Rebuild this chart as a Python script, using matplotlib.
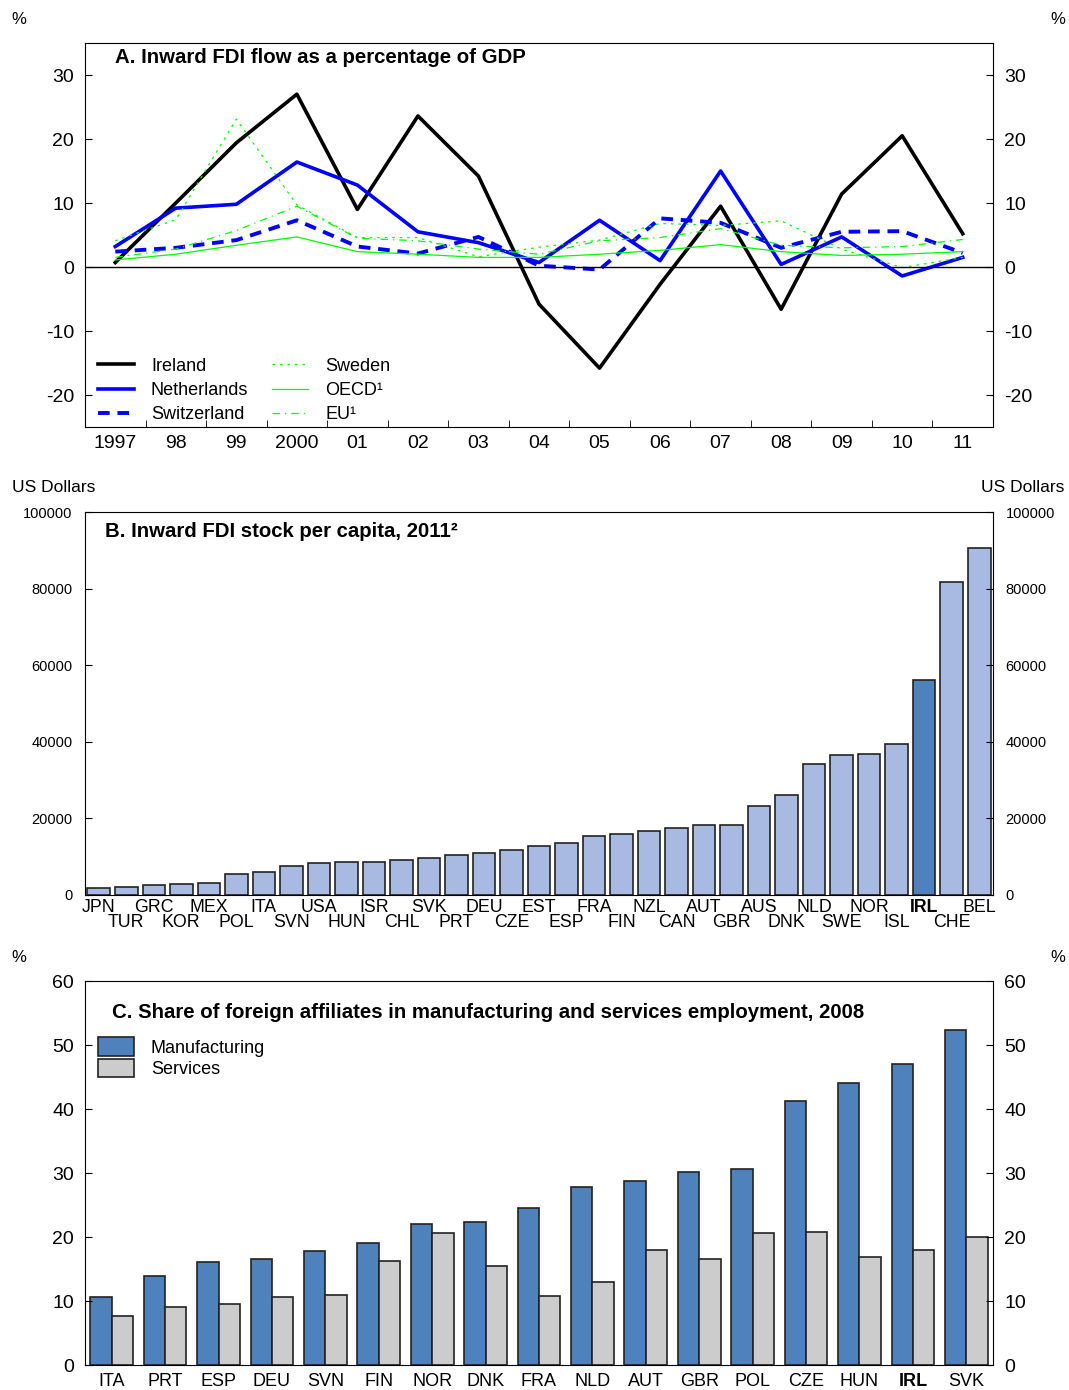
import numpy as np
import matplotlib
matplotlib.use("Agg")
from matplotlib import pyplot as plt

plt.rcParams['font.family'] = ['Liberation Sans', 'DejaVu Sans']
plt.rcParams['axes.unicode_minus'] = False

# Panel A data
years = list(range(1997, 2012))
year_labels = ["1997", "98", "99", "2000", "01", "02", "03", "04", "05", "06", "07", "08", "09", "10", "11"]
ireland = [0.7, 10.0, 19.4, 27.0, 9.0, 23.6, 14.2, -5.8, -15.8, -2.7, 9.5, -6.6, 11.4, 20.5, 5.2]
netherlands = [3.2, 9.2, 9.8, 16.4, 12.8, 5.5, 3.8, 0.7, 7.3, 1.0, 15.0, 0.4, 4.7, -1.4, 1.5]
switzerland = [2.4, 3.0, 4.2, 7.3, 3.2, 2.1, 4.7, 0.2, -0.4, 7.6, 6.9, 3.0, 5.5, 5.6, 2.2]
sweden = [4.1, 7.4, 23.1, 9.7, 4.6, 4.6, 1.6, 3.1, 4.2, 6.8, 6.5, 7.2, 2.8, -0.1, 1.5]
oecd = [1.1, 2.0, 3.4, 4.7, 2.4, 2.0, 1.5, 1.5, 2.0, 2.6, 3.5, 2.4, 1.8, 2.0, 2.4]
eu = [1.5, 2.8, 5.7, 9.5, 4.5, 4.1, 2.8, 2.0, 4.1, 4.6, 6.0, 3.4, 3.0, 3.2, 4.3]

# Panel B data
stock_countries = ["JPN", "TUR", "GRC", "KOR", "MEX", "POL", "ITA", "SVN", "USA", "HUN", "ISR",
                   "CHL", "SVK", "PRT", "DEU", "CZE", "EST", "ESP", "FRA", "FIN", "NZL", "CAN",
                   "AUT", "GBR", "AUS", "DNK", "NLD", "SWE", "NOR", "ISL", "IRL", "CHE", "BEL"]
stock_values = [1900, 2100, 2700, 2900, 3200, 5400, 5900, 7600, 8300, 8500, 8700,
                9200, 9700, 10500, 11000, 11700, 12700, 13700, 15500, 15900, 16800, 17400,
                18300, 18300, 23200, 26200, 34100, 36600, 36800, 39500, 56200, 81800, 90700]

# Panel C data
emp_countries = ["ITA", "PRT", "ESP", "DEU", "SVN", "FIN", "NOR", "DNK", "FRA",
                 "NLD", "AUT", "GBR", "POL", "CZE", "HUN", "IRL", "SVK"]
manufacturing = [10.6, 13.9, 16.1, 16.6, 17.8, 19.0, 22.0, 22.3, 24.6,
                 27.8, 28.7, 30.2, 30.6, 41.2, 44.0, 47.0, 52.3]
services = [7.6, 9.1, 9.5, 10.7, 10.9, 16.2, 20.6, 15.5, 10.8,
            12.9, 17.9, 16.6, 20.7, 20.8, 16.8, 18.0, 20.0]

W, H = 1069, 1390
fig = plt.figure(figsize=(W / 100, H / 100), dpi=100)


def box(l, t, r, b):
    return [l / W, 1 - b / H, (r - l) / W, (b - t) / H]


GREEN = "#00ff00"
BLUE = "#0000ff"

# ---------- Panel A ----------
ax1 = fig.add_axes(box(85, 43, 993, 427))
ax1.plot(years, ireland, color="black", lw=2.6, label="Ireland")
ax1.plot(years, netherlands, color=BLUE, lw=2.6, label="Netherlands")
ax1.plot(years, switzerland, color=BLUE, lw=2.8, ls=(0, (3, 2)), label="Switzerland")
ax1.plot(years, sweden, color=GREEN, lw=0.9, ls=(0, (2, 4)), label="Sweden")
ax1.plot(years, oecd, color=GREEN, lw=0.9, label="OECD¹")
ax1.plot(years, eu, color=GREEN, lw=0.9, ls=(0, (6, 4, 1, 4)), label="EU¹")
ax1.axhline(0, color="black", lw=1)
ax1.set_xlim(1996.5, 2011.5)
ax1.set_ylim(-25, 35)
ax1.set_yticks([-20, -10, 0, 10, 20, 30])
ax1.set_xticks(years)
ax1.set_xticklabels(year_labels)
ax1.set_xticks(np.arange(1997.5, 2011, 1), minor=True)
ax1.tick_params(axis="y", direction="in", length=5, left=True, right=True,
                labelleft=True, labelright=True, labelsize=14, pad=8)
ax1.tick_params(axis="x", which="major", length=0, labelsize=14, pad=6)
ax1.tick_params(axis="x", which="minor", direction="in", length=5)
ax1.text(0.033, 0.961, "A. Inward FDI flow as a percentage of GDP", transform=ax1.transAxes,
         fontsize=14.7, fontweight="bold", va="center")
ax1.legend(loc="lower left", ncol=2, frameon=False, fontsize=13, handlelength=2.0,
           columnspacing=1.3, handletextpad=0.95, labelspacing=0.4,
           bbox_to_anchor=(0.0, -0.023), borderaxespad=0.3)

fig.text(19 / W, 1 - 19 / H, "%", fontsize=12, ha="center", va="center")
fig.text(1058 / W, 1 - 19 / H, "%", fontsize=12, ha="center", va="center")

# ---------- Panel B ----------
ax2 = fig.add_axes(box(85, 512, 993, 895))
xb = np.arange(len(stock_countries))
colors = ["#4f81bd" if c == "IRL" else "#a8b9e2" for c in stock_countries]
ax2.bar(xb, stock_values, width=0.82, color=colors, edgecolor="#222222", linewidth=1.2)
ax2.set_xlim(-0.5, len(stock_countries) - 0.5)
ax2.set_ylim(0, 100000)
ax2.set_yticks(range(0, 100001, 20000))
# staggered labels: even positions on the upper row, odd ones on the lower row
ax2.set_xticks(xb[::2])
ax2.set_xticklabels(stock_countries[::2])
ax2.set_xticks(xb[1::2], minor=True)
ax2.set_xticklabels(stock_countries[1::2], minor=True)
for lab in ax2.get_xticklabels():
    if lab.get_text() == "IRL":
        lab.set_fontweight("bold")
ax2.tick_params(axis="x", which="major", length=0, labelsize=12.8, pad=3)
ax2.tick_params(axis="x", which="minor", length=0, labelsize=12.8, pad=14)
ax2.tick_params(axis="y", direction="in", length=5, left=True, right=True,
                labelleft=True, labelright=True, labelsize=10.5, pad=9)
ax2.text(0.022, 0.95, "B. Inward FDI stock per capita, 2011²", transform=ax2.transAxes,
         fontsize=14.7, fontweight="bold", va="center")
fig.text(54 / W, 1 - 488 / H, "US Dollars", fontsize=12.5, ha="center", va="center")
fig.text(1023 / W, 1 - 488 / H, "US Dollars", fontsize=12.5, ha="center", va="center")

# ---------- Panel C ----------
ax3 = fig.add_axes(box(85, 981, 993, 1365))
xc = np.arange(len(emp_countries))
ax3.bar(xc - 0.2, manufacturing, width=0.4, color="#4f81bd", edgecolor="#222222",
        linewidth=1.2, label="Manufacturing")
ax3.bar(xc + 0.2, services, width=0.4, color="#cccccc", edgecolor="#222222",
        linewidth=1.2, label="Services")
ax3.set_xlim(-0.5, len(emp_countries) - 0.5)
ax3.set_ylim(0, 60)
ax3.set_yticks(range(0, 61, 10))
ax3.set_xticks(xc)
ax3.set_xticklabels(emp_countries)
for lab, c in zip(ax3.get_xticklabels(), emp_countries):
    if c == "IRL":
        lab.set_fontweight("bold")
ax3.tick_params(axis="x", length=0, labelsize=13, pad=6)
ax3.tick_params(axis="y", direction="in", length=5, left=True, right=True,
                labelleft=True, labelright=True, labelsize=14, pad=8)
ax3.text(0.0297, 0.919, "C. Share of foreign affiliates in manufacturing and services employment, 2008",
         transform=ax3.transAxes, fontsize=14.7, fontweight="bold", va="center")
ax3.legend(loc="upper left", bbox_to_anchor=(0.0, 0.886), frameon=False, fontsize=13,
           handlelength=2.0, handleheight=1.2, handletextpad=0.95, labelspacing=0.1,
           borderaxespad=0.3)
fig.text(19 / W, 1 - 957 / H, "%", fontsize=12, ha="center", va="center")
fig.text(1058 / W, 1 - 957 / H, "%", fontsize=12, ha="center", va="center")

fig.savefig("out.png", dpi=100)
